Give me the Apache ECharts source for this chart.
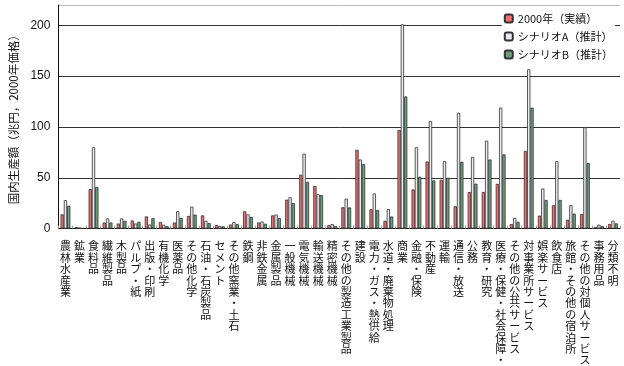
<!DOCTYPE html>
<html><head><meta charset="utf-8">
<script src="https://cdn.jsdelivr.net/npm/echarts@6/dist/echarts.min.js"></script>
<style>html,body{margin:0;padding:0;background:#fff}#c{width:624px;height:366px}</style>
</head><body><div id="c"></div>
<script>
const categories = ['農林水産業','鉱業','食料品','繊維製品','木製品','パルプ・紙','出版・印刷','有機化学','医薬品','その他化学',
 '石油・石炭製品','セメント','その他窯業・土石','鉄鋼','非鉄金属','金属製品','一般機械','電気機械','輸送機械','精密機械',
 'その他の製造工業製品','建設','電力・ガス・熱供給','水道・廃棄物処理','商業','金融・保険','不動産','運輸','通信・放送','公務',
 '教育・研究','医療・保健・社会保障・','その他の公共サービス','対事業所サービス','娯楽サービス','飲食店','旅館・その他の宿泊所','その他の対個人サービス','事務用品','分類不明'];
const actual2000 = [14,1.5,39,6,5,8,12,6.5,6,12.5, 13,3.5,4,17,6,13,28.5,53,42,3.5, 21,77.5,19,7.7,97,38.5,66,48,22,36, 36,44,4.5,76.5,12.8,23,8.7,14.4,1.6,4.5];
const scenarioA = [28,1,80,10,10,5,4,3.8,17,21.5, 7.7,2.5,6.4,14,7,13.8,30.8,73.7,33.7,4.5, 29.5,68,34.6,19.2,201,80,105.8,66.3,114,70.5, 86.5,119,10.6,156.7,39.4,66.3,23,99.7,3.8,7.7];
const scenarioB = [22.5,0.5,41,6,7.7,6.7,10.3,2.4,10.6,13.8, 5.4,2.2,4.5,11.5,4.8,10.3,25,46,33,2.6, 20.8,63.5,18.3,11.9,130,51,47.4,50,65.7,44.2, 68,73,6.7,119,28.2,28.2,14.7,64.4,2.6,5.1];
const seriesNames = ['2000年（実績）','シナリオA（推計）','シナリオB（推計）'];
const yTicks = [0,50,100,150,200];

const jp = '"Noto Sans CJK JP", sans-serif';
const chart = echarts.init(document.getElementById('c'), null, {renderer:'canvas'});
const mk = (name, data, fill) => ({
  name, type:'bar', data, barGap:'0%', barCategoryGap:'30%',
  itemStyle:{color:fill, borderColor:'#333', borderWidth:0.8},
  emphasis:{disabled:true}, animation:false
});
chart.setOption({
  animation:false,
  grid:{left:52, right:4, top:5, bottom:133, containLabel:false},
  legend:{
    orient:'vertical', right:9, top:10, itemWidth:8, itemHeight:8, itemGap:7,
    backgroundColor:'#fff', padding:[3,2,3,2],
    textStyle:{fontFamily:jp, fontSize:11, color:'#111'},
    data:seriesNames
  },
  xAxis:{
    type:'category', data:categories,
    axisLine:{lineStyle:{color:'#111', width:1}},
    axisTick:{show:true, inside:true, length:3, lineStyle:{color:'#999'}},
    axisLabel:{interval:0, margin:12, fontFamily:jp, fontSize:11, lineHeight:11.4, color:'#111',
      verticalAlign:'top', formatter:v=>v.split('').join('\n')}
  },
  yAxis:{
    type:'value', min:0, max:220, interval:50,
    name:'国内生産額（兆円，2000年価格）', nameLocation:'middle', nameRotate:90, nameGap:34,
    nameTextStyle:{fontFamily:jp, fontSize:11.5, color:'#111'},
    axisLine:{show:true, lineStyle:{color:'#111'}},
    axisTick:{show:false},
    axisLabel:{fontFamily:'"Liberation Sans", Arial, sans-serif', fontSize:12, color:'#111', margin:8,
      formatter:v=> yTicks.includes(v) ? String(v) : ''},
    splitLine:{show:true, lineStyle:{color:['#333','#333','#333','#333','#333','#bbb'], width:1}}
  },
  series:[
    mk(seriesNames[0], actual2000, '#f26b6b'),
    mk(seriesNames[1], scenarioA, '#e9e9f4'),
    mk(seriesNames[2], scenarioB, '#6b9f79')
  ]
});
</script></body></html>
